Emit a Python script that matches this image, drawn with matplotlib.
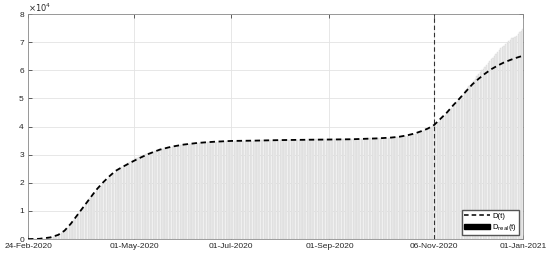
import numpy as np
import pandas as pd
import matplotlib
matplotlib.use("Agg")
import matplotlib.pyplot as plt
from matplotlib.lines import Line2D
from matplotlib.patches import Patch

plt.rcParams['font.family'] = ['Liberation Sans', 'DejaVu Sans']

# Morti cumulativi giornalieri (reali), dal 24-Feb-2020 al 01-Jan-2021
inizio = "2020-02-24"
reali_feb = [7, 10, 12, 17, 21, 29]
reali_mar = [34, 52, 79, 107, 148, 197, 233, 366, 463, 631, 827, 1016, 1266, 1441, 1809, 2158,
             2503, 2978, 3405, 4032, 4825, 5476, 6077, 6820, 7503, 8165, 9134, 10023, 10779,
             11591, 12428]
reali_apr = [13155, 13915, 14681, 15362, 15887, 16523, 17127, 17669, 18279, 18849, 19468, 19899,
             20465, 21067, 21645, 22170, 22745, 23227, 23660, 24114, 24648, 25085, 25549, 25969,
             26384, 26644, 26977, 27359, 27682, 27967]
reali_mag = [28236, 28710, 28884, 29079, 29315, 29684, 29958, 30201, 30395, 30560, 30739, 30911,
             31106, 31368, 31610, 31763, 31908, 32007, 32169, 32330, 32486, 32616, 32735, 32785,
             32877, 32955, 33072, 33142, 33229, 33340, 33415]
reali_giu = [33475, 33530, 33601, 33689, 33774, 33846, 33899, 33964, 34043, 34114, 34167, 34223,
             34301, 34345, 34371, 34405, 34448, 34514, 34561, 34610, 34634, 34657, 34675, 34644,
             34678, 34708, 34716, 34738, 34744, 34767]
reali_lug = [34788, 34818, 34833, 34854, 34861, 34869, 34899, 34914, 34926, 34938, 34945, 34954,
             34967, 34984, 34997, 35017, 35028, 35042, 35045, 35058, 35073, 35082, 35092, 35097,
             35102, 35107, 35112, 35123, 35129, 35132, 35141]
reali_ago = [35146, 35154, 35166, 35171, 35181, 35187, 35190, 35203, 35205, 35209, 35215, 35225,
             35231, 35234, 35392, 35396, 35400, 35405, 35412, 35418, 35427, 35430, 35437, 35441,
             35445, 35458, 35463, 35472, 35473, 35477, 35483]
reali_set = [35491, 35497, 35507, 35518, 35534, 35541, 35553, 35563, 35587, 35597, 35603, 35610,
             35624, 35633, 35645, 35658, 35668, 35692, 35707, 35724, 35738, 35758, 35781, 35801,
             35818, 35835, 35851, 35875, 35885, 35894]
reali_ott = [35918, 35941, 35968, 35986, 36002, 36030, 36061, 36083, 36111, 36140, 36166, 36205,
             36246, 36289, 36372, 36427, 36474, 36543, 36616, 36705, 36832, 36968, 37059, 37210,
             37338, 37479, 37700, 37905, 38122, 38321, 38618]
reali_nov = [38826, 39059, 39412, 39764, 40192, 40638, 41063, 41394, 41750, 42330, 42953, 43589,
             44139, 44683, 45229, 45733, 46464, 47217, 47870, 48569, 49261, 49823, 50453, 51306,
             52028, 52850, 53677, 54363, 54904, 55576]
reali_dic = [56361, 57045, 58038, 58852, 59514, 60078, 60606, 61240, 61739, 62626, 63387, 64036,
             64520, 65011, 65857, 66537, 67220, 67894, 68447, 68799, 69214, 69842, 70395, 70900,
             71359, 71620, 71925, 72370, 73029, 73604, 74159]
reali_gen = [74621]

# Curva del modello D(t) (x10^4)
modello_date = ["2020-02-24", "2020-03-02", "2020-03-09", "2020-03-14", "2020-03-18", "2020-03-22",
                "2020-03-26", "2020-03-30", "2020-04-03", "2020-04-07", "2020-04-11", "2020-04-15",
                "2020-04-19", "2020-04-23", "2020-04-27", "2020-05-01", "2020-05-05", "2020-05-10",
                "2020-05-17", "2020-05-24", "2020-06-01", "2020-06-10", "2020-06-20", "2020-07-01",
                "2020-07-15", "2020-08-01", "2020-08-15", "2020-09-01", "2020-09-15", "2020-10-01",
                "2020-10-10", "2020-10-15", "2020-10-20", "2020-10-25", "2020-10-29", "2020-11-02",
                "2020-11-06", "2020-11-10", "2020-11-14", "2020-11-18", "2020-11-22", "2020-11-26",
                "2020-11-30", "2020-12-04", "2020-12-08", "2020-12-12", "2020-12-16", "2020-12-20",
                "2020-12-24", "2020-12-28", "2021-01-01"]
modello_val = [0.0, 0.01, 0.06, 0.15, 0.30, 0.55, 0.85, 1.15, 1.45, 1.75, 2.00, 2.22,
               2.42, 2.55, 2.67, 2.79, 2.90, 3.03, 3.18, 3.28, 3.36, 3.42, 3.46, 3.49,
               3.50, 3.52, 3.53, 3.54, 3.55, 3.58, 3.61, 3.64, 3.69, 3.76, 3.84, 3.93,
               4.06, 4.28, 4.50, 4.76, 5.00, 5.25, 5.50, 5.70, 5.88, 6.04, 6.17, 6.28,
               6.37, 6.45, 6.52]

tick_date = ["2020-02-24", "2020-05-01", "2020-07-01", "2020-09-01", "2020-11-06", "2021-01-01"]
tick_etichette = ["24-Feb-2020", "01-May-2020", "01-Jul-2020", "01-Sep-2020", "06-Nov-2020", "01-Jan-2021"]
data_soglia = "2020-11-06"

reali = (reali_feb + reali_mar + reali_apr + reali_mag + reali_giu + reali_lug + reali_ago
         + reali_set + reali_ott + reali_nov + reali_dic + reali_gen)
giorni = pd.date_range(inizio, periods=len(reali), freq="D")
reali_1e4 = np.array(reali) / 1e4

grigio = "#262626"

fig = plt.figure(figsize=(5.5, 2.56), dpi=100)
ax = fig.add_axes([0.051, 0.066, 0.9, 0.879])

ax.bar(giorni, reali_1e4, width=0.8, color="#ececec", edgecolor="#d2d2d2", linewidth=0.25, zorder=2)
ax.plot(pd.to_datetime(modello_date), modello_val, color="black", linestyle=(0, (3, 2)),
        linewidth=1.3, zorder=4)
ax.axvline(pd.Timestamp(data_soglia), color="#333333", linestyle=(0, (4, 2.5)), linewidth=0.8, zorder=3)

ax.set_xlim(pd.Timestamp(tick_date[0]), pd.Timestamp(tick_date[-1]))
ax.set_ylim(0, 8)
ax.set_xticks(pd.to_datetime(tick_date))
ax.set_xticklabels(tick_etichette)
ax.set_yticks(range(0, 9))

ax.grid(True, color="#e3e3e3", linewidth=0.6, zorder=0)
ax.set_axisbelow(True)
ax.tick_params(direction="in", length=3, width=0.5, labelsize=6.0, colors=grigio,
               right=True, top=True, pad=3)
for lato in ax.spines.values():
    lato.set_color("#8c8c8c")
    lato.set_linewidth(0.6)

ax.text(0.0, 1.0, r"$\times10^{4}$", transform=ax.transAxes, fontsize=6, color=grigio,
        ha="left", va="bottom")

maniglie = [Line2D([0], [0], color="black", linestyle=(0, (3, 2)), linewidth=1.1),
            Patch(facecolor="black", edgecolor="black")]
ax.legend(maniglie, ["D(t)", r"D$_{\rm real}$(t)"], loc="lower right", fontsize=5.5,
          frameon=True, fancybox=False, edgecolor="#555555", framealpha=1,
          borderpad=0.3, labelspacing=0.3, handlelength=3.4, handletextpad=0.3,
          borderaxespad=0.5)

fig.savefig("out.png", dpi=100)
